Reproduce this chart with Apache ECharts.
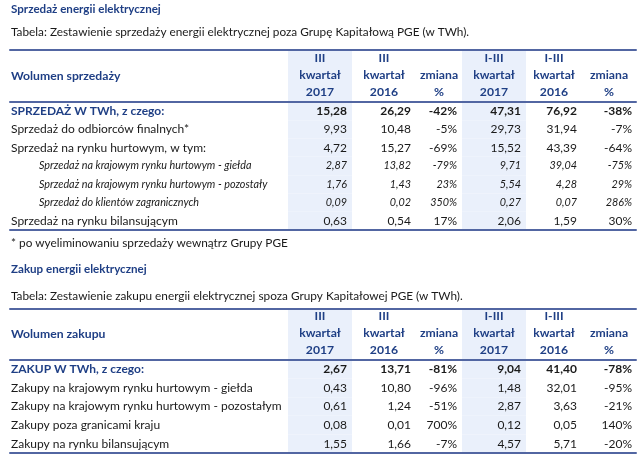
<!doctype html>
<html>
<head>
<meta charset="UTF-8">
<title>Sprzedaż i zakup energii elektrycznej</title>
<script src="https://cdn.jsdelivr.net/npm/echarts@6/dist/echarts.min.js"></script>
<style>
  html, body { margin: 0; padding: 0; background: #fff; }
  #main { width: 640px; height: 464px; }
</style>
</head>
<body>
<div id="main"></div>
<script>
// ---- dane: sprzedaż energii (TWh) ----
var salesRows = [
    'SPRZEDAŻ W TWh, z czego:',
    'Sprzedaż do odbiorców finalnych*',
    'Sprzedaż na rynku hurtowym, w tym:',
    'Sprzedaż na krajowym rynku hurtowym - giełda',
    'Sprzedaż na krajowym rynku hurtowym - pozostały',
    'Sprzedaż do klientów zagranicznych',
    'Sprzedaż na rynku bilansującym'
];
var salesKind = ['total', 'item', 'item', 'sub', 'sub', 'sub', 'item'];
var salesQ3y2017 = [15.28, 9.93, 4.72, 2.87, 1.76, 0.09, 0.63];
var salesQ3y2016 = [26.29, 10.48, 15.27, 13.82, 1.43, 0.02, 0.54];
var salesQ3Chg = [-42, -5, -69, -79, 23, 350, 17];
var salesYtd2017 = [47.31, 29.73, 15.52, 9.71, 5.54, 0.27, 2.06];
var salesYtd2016 = [76.92, 31.94, 43.39, 39.04, 4.28, 0.07, 1.59];
var salesYtdChg = [-38, -7, -64, -75, 29, 286, 30];

// ---- dane: zakup energii (TWh) ----
var purchaseRows = [
    'ZAKUP W TWh, z czego:',
    'Zakupy na krajowym rynku hurtowym - giełda',
    'Zakupy na krajowym rynku hurtowym - pozostałym',
    'Zakupy poza granicami kraju',
    'Zakupy na rynku bilansującym'
];
var purchaseKind = ['total', 'item', 'item', 'item', 'item'];
var purchaseQ3y2017 = [2.67, 0.43, 0.61, 0.08, 1.55];
var purchaseQ3y2016 = [13.71, 10.80, 1.24, 0.01, 1.66];
var purchaseQ3Chg = [-81, -96, -51, 700, -7];
var purchaseYtd2017 = [9.04, 1.48, 2.87, 0.12, 4.57];
var purchaseYtd2016 = [41.40, 32.01, 3.63, 0.05, 5.71];
var purchaseYtdChg = [-78, -95, -21, 140, -20];

// naglowki kolumn
var columnHeads = ['III\nkwartał\n2017', 'III\nkwartał\n2016', 'zmiana\n%',
                   'I-III\nkwartał\n2017', 'I-III\nkwartał\n2016', 'zmiana\n%'];

// ---- uklad / style ----
var COL_EDGES = [10, 288, 352, 416, 462, 526, 582, 636];
var SHADED = [1, 4];
var FONT = 'Lato, "Noto Sans", sans-serif';
var NAVY = '#1f3f85';
var INK = '#1a1a1a';
var SHADE = '#eaf0fb';
var RULE = '#5266a2';

function fmt(v) { return v.toFixed(2).replace('.', ','); }
function pct(v) { return v + '%'; }

function tableColumns(rows, a, b, c, d, e, f) {
    return [rows, a.map(fmt), b.map(fmt), c.map(pct), d.map(fmt), e.map(fmt), f.map(pct)];
}
var salesCols = tableColumns(salesRows, salesQ3y2017, salesQ3y2016, salesQ3Chg,
                             salesYtd2017, salesYtd2016, salesYtdChg);
var purchaseCols = tableColumns(purchaseRows, purchaseQ3y2017, purchaseQ3y2016, purchaseQ3Chg,
                                purchaseYtd2017, purchaseYtd2016, purchaseYtdChg);

function cellData(nRows) {
    var out = [];
    for (var i = 0; i < nRows; i++) {
        for (var j = 0; j < COL_EDGES.length - 1; j++) {
            out.push([(COL_EDGES[j] + COL_EDGES[j + 1]) / 2, i, j]);
        }
    }
    return out;
}

function cellRect(api, j, i) {
    var a = api.coord([COL_EDGES[j], i]);
    var b = api.coord([COL_EDGES[j + 1], i]);
    var h = api.size([0, 1])[1];
    return { x: a[0], y: a[1] - h / 2, w: b[0] - a[0], h: h, cy: a[1] };
}

function shadeRect(r) {
    return { type: 'rect', shape: { x: r.x, y: r.y, width: r.w, height: r.h }, style: { fill: SHADE } };
}

function headerRender(title) {
    return function (params, api) {
        var j = api.value(2);
        var r = cellRect(api, j, 0);
        var kids = [];
        if (SHADED.indexOf(j) >= 0) kids.push(shadeRect(r));
        if (j === 0) {
            kids.push({ type: 'text', style: {
                text: title, x: r.x + 1, y: r.cy, align: 'left', verticalAlign: 'middle',
                fill: NAVY, fontFamily: FONT, fontSize: 12.2, fontWeight: 'bold' } });
        } else {
            kids.push({ type: 'text', style: {
                text: columnHeads[j - 1], x: r.x + r.w / 2, y: r.y + r.h - 1,
                align: 'center', verticalAlign: 'bottom', lineHeight: 17,
                fill: NAVY, fontFamily: FONT, fontSize: 12.2, fontWeight: 'bold' } });
        }
        return { type: 'group', children: kids };
    };
}

function bodyRender(cols, kinds) {
    return function (params, api) {
        var j = api.value(2);
        var i = api.value(1);
        var r = cellRect(api, j, i);
        var kind = kinds[i];
        var kids = [];
        if (SHADED.indexOf(j) >= 0) kids.push(shadeRect(r));
        var st = {
            text: cols[j][i], y: r.cy, verticalAlign: 'middle',
            fill: INK, fontFamily: FONT,
            fontSize: kind === 'sub' ? 10.8 : 12,
            fontStyle: kind === 'sub' ? 'italic' : 'normal',
            fontWeight: kind === 'total' ? 'bold' : 'normal'
        };
        if (j === 0) {
            st.x = r.x + (kind === 'sub' ? 29 : 1);
            st.align = 'left';
            if (kind === 'total') st.fill = NAVY;
        } else {
            st.x = r.x + r.w - (j === COL_EDGES.length - 2 ? 4 : 5);
            st.align = 'right';
        }
        kids.push({ type: 'text', style: st });
        return { type: 'group', children: kids };
    };
}

var grids = [
    { left: 10, right: 4, top: 50, height: 52 },
    { left: 10, right: 4, top: 102, height: 128 },
    { left: 10, right: 4, top: 309, height: 51 },
    { left: 10, right: 4, top: 360, height: 93 }
];

function rule(gridIndex, position, show) {
    return {
        type: 'value', gridIndex: gridIndex, position: position, min: 10, max: 636, z: 5,
        axisLine: { show: show, onZero: false, lineStyle: { color: RULE, width: 2 } },
        axisTick: { show: false }, axisLabel: { show: false }, splitLine: { show: false }
    };
}

var xAxes = [
    rule(0, 'bottom', true), rule(0, 'top', true),
    rule(1, 'bottom', true),
    rule(2, 'bottom', true), rule(2, 'top', true),
    rule(3, 'bottom', true)
];
function rowAxis(gridIndex, rows) {
    return { type: 'category', gridIndex: gridIndex, data: rows, inverse: true, show: false };
}
var yAxes = [rowAxis(0, ['h']), rowAxis(1, salesRows), rowAxis(2, ['h']), rowAxis(3, purchaseRows)];

function textTitle(text, top, bold) {
    return {
        text: text, left: 11, top: top, padding: 0,
        textStyle: { fontFamily: FONT, fontSize: bold ? 11.6 : 11.8, fontWeight: bold ? 'bold' : 'normal',
                     color: bold ? NAVY : INK }
    };
}

var myChart = echarts.init(document.getElementById('main'));
var option = {
    animation: false,
    backgroundColor: '#fff',
    title: [
        textTitle('Sprzedaż energii elektrycznej', 3, true),
        textTitle('Tabela: Zestawienie sprzedaży energii elektrycznej poza Grupę Kapitałową PGE (w TWh).', 26, false),
        textTitle('* po wyeliminowaniu sprzedaży wewnątrz Grupy PGE', 237, false),
        textTitle('Zakup energii elektrycznej', 263, true),
        textTitle('Tabela: Zestawienie zakupu energii elektrycznej spoza Grupy Kapitałowej PGE (w TWh).', 290, false)
    ],
    grid: grids,
    xAxis: xAxes,
    yAxis: yAxes,
    series: [
        { type: 'custom', xAxisIndex: 0, yAxisIndex: 0, renderItem: headerRender('Wolumen sprzedaży'), data: cellData(1), z: 1 },
        { type: 'custom', xAxisIndex: 2, yAxisIndex: 1, renderItem: bodyRender(salesCols, salesKind), data: cellData(salesRows.length), z: 1 },
        { type: 'custom', xAxisIndex: 3, yAxisIndex: 2, renderItem: headerRender('Wolumen zakupu'), data: cellData(1), z: 1 },
        { type: 'custom', xAxisIndex: 5, yAxisIndex: 3, renderItem: bodyRender(purchaseCols, purchaseKind), data: cellData(purchaseRows.length), z: 1 }
    ]
};
myChart.setOption(option);
</script>
</body>
</html>
